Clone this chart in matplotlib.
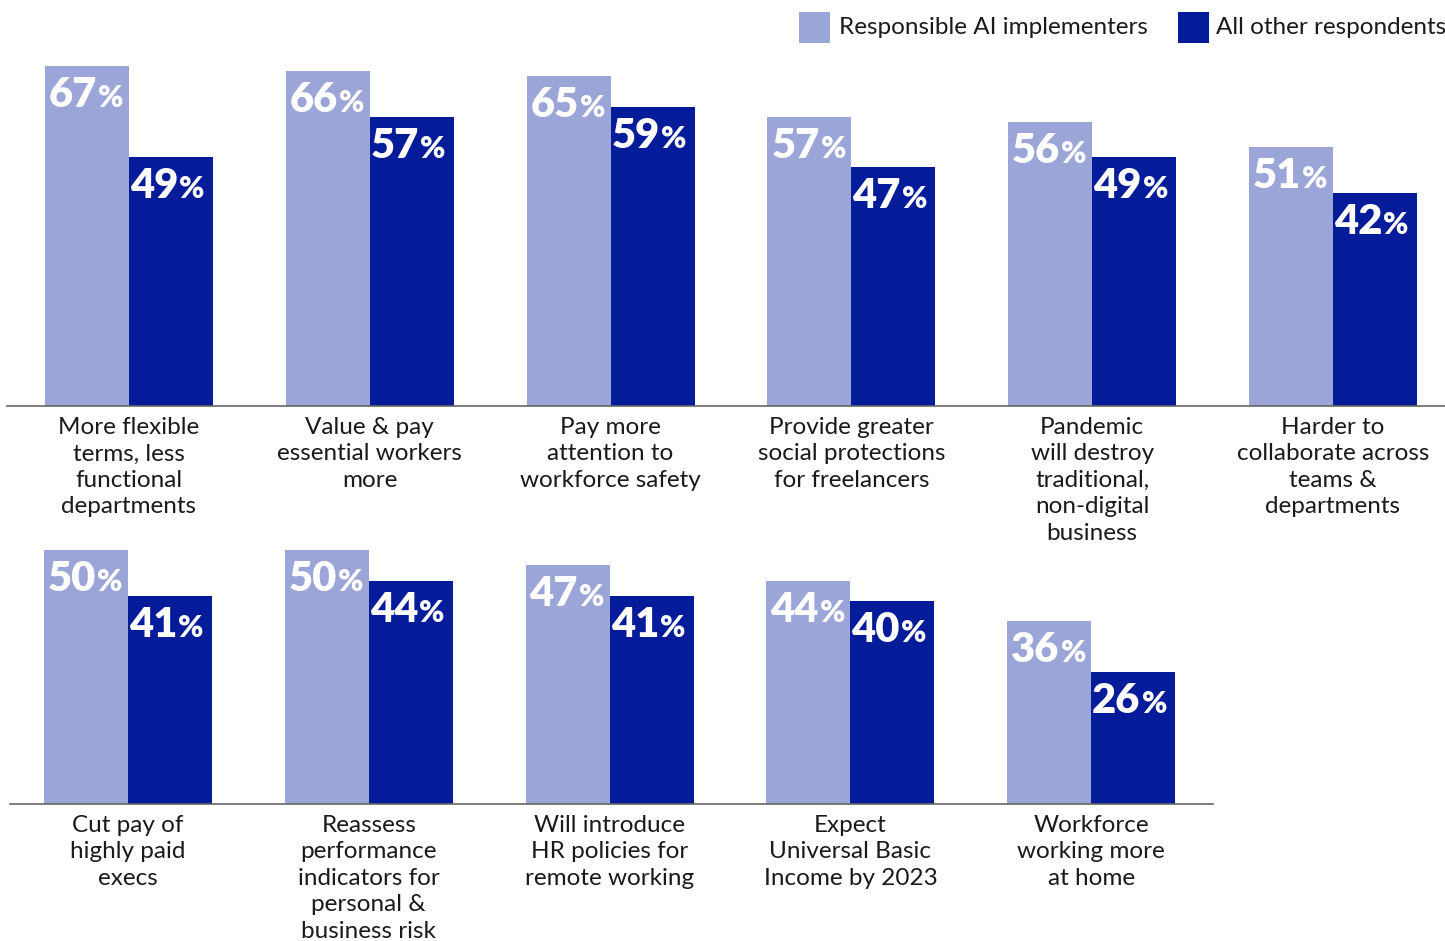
import matplotlib
matplotlib.use("Agg")
import matplotlib.pyplot as plt
from matplotlib.patches import Rectangle
import numpy as np

plt.rcParams['font.family'] = ['Lato', 'DejaVu Sans']

# ---- data ----
series_names = ["Responsible AI implementers", "All other respondents"]

top_categories = [
    "More flexible\nterms, less\nfunctional\ndepartments",
    "Value & pay\nessential workers\nmore",
    "Pay more\nattention to\nworkforce safety",
    "Provide greater\nsocial protections\nfor freelancers",
    "Pandemic\nwill destroy\ntraditional,\nnon-digital\nbusiness",
    "Harder to\ncollaborate across\nteams &\ndepartments",
]
top_responsible = [67, 66, 65, 57, 56, 51]
top_others = [49, 57, 59, 47, 49, 42]

bottom_categories = [
    "Cut pay of\nhighly paid\nexecs",
    "Reassess\nperformance\nindicators for\npersonal &\nbusiness risk",
    "Will introduce\nHR policies for\nremote working",
    "Expect\nUniversal Basic\nIncome by 2023",
    "Workforce\nworking more\nat home",
]
bottom_responsible = [50, 50, 47, 44, 36]
bottom_others = [41, 44, 41, 40, 26]

# ---- style ----
LIGHT = "#9ba5d7"
DARK = "#051c9a"
TEXT = "#1a1a1a"
W, H = 1445, 941
BAR_W = 0.349
UNIT_PX = 240.8
LABEL_SIZE = 17.5

fig = plt.figure(figsize=(W / 100, H / 100), dpi=100)


def make_axes(left_px, right_px, base_px, first_center_px):
    ymax = 75
    height_px = ymax * 5.075
    ax = fig.add_axes([left_px / W, (H - base_px) / H,
                       (right_px - left_px) / W, height_px / H])
    x0 = -(first_center_px - left_px) / UNIT_PX
    ax.set_xlim(x0, x0 + (right_px - left_px) / UNIT_PX)
    ax.set_ylim(0, ymax)
    for s in ("top", "left", "right"):
        ax.spines[s].set_visible(False)
    ax.spines["bottom"].set_color("#666666")
    ax.spines["bottom"].set_linewidth(1.2)
    ax.set_xticks([])
    ax.set_yticks([])
    ax.patch.set_alpha(0)
    return ax


def value_label(ax, x_left, val, dx):
    num = ax.annotate(f"{val}", xy=(x_left, val), xytext=(dx, -41),
                      textcoords="offset pixels", ha="left", va="baseline",
                      color="white", fontsize=30, fontweight="heavy",
                      annotation_clip=False)
    ax.annotate("%", xy=(1, val), xycoords=(num, "data"), xytext=(1, -41),
                textcoords="offset pixels", ha="left", va="baseline",
                color="white", fontsize=22, fontweight="heavy",
                annotation_clip=False)


def draw_panel(ax, cats, a, b):
    x = np.arange(len(cats))
    ax.bar(x - BAR_W / 2, a, BAR_W, color=LIGHT, linewidth=0)
    ax.bar(x + BAR_W / 2, b, BAR_W, color=DARK, linewidth=0)
    for xi, va_, vb_ in zip(x, a, b):
        value_label(ax, xi - BAR_W, va_, 4)
        value_label(ax, xi, vb_, 1)
    for xi, c in zip(x, cats):
        ax.annotate(c, xy=(xi, 0), xytext=(0, -11), textcoords="offset pixels",
                    ha="center", va="top", multialignment="center",
                    fontsize=LABEL_SIZE, color=TEXT, linespacing=1.32,
                    annotation_clip=False)


ax_top = make_axes(7, 1445, 406, 129)
draw_panel(ax_top, top_categories, top_responsible, top_others)

ax_bot = make_axes(10, 1213, 804, 128)
draw_panel(ax_bot, bottom_categories, bottom_responsible, bottom_others)

# ---- legend ----
legend_items = [(799, 839, LIGHT, series_names[0]),
                (1178, 1216, DARK, series_names[1])]
for sq_x, tx_x, col, name in legend_items:
    fig.add_artist(Rectangle((sq_x / W, (H - 43) / H), 31 / W, 31 / H,
                             transform=fig.transFigure, color=col, lw=0))
    fig.text(tx_x / W, (H - 27.5) / H, name, ha="left", va="center",
             fontsize=LABEL_SIZE, color=TEXT)

fig.savefig("out.png", dpi=100)
